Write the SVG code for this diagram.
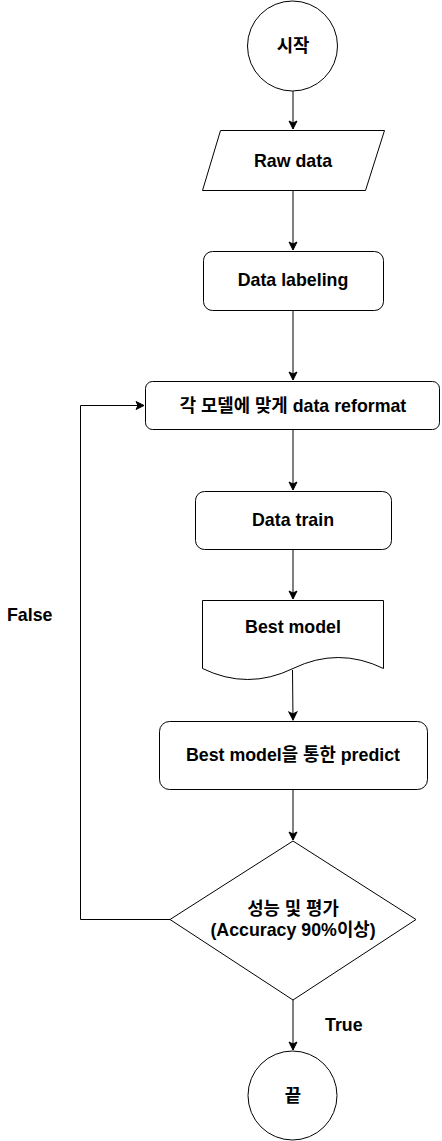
<svg xmlns="http://www.w3.org/2000/svg" width="442" height="1141" viewBox="0 0 442 1141">
<style>
.s{fill:#fff;stroke:#000;stroke-width:1}
.t{font-family:"Liberation Sans","Noto Sans CJK KR",sans-serif;font-weight:bold;font-size:17.8px;fill:#000;text-anchor:middle}
.l{font-family:"Liberation Sans","Noto Sans CJK KR",sans-serif;font-weight:bold;font-size:17.8px;fill:#000}
.c{fill:none;stroke:#000;stroke-width:1}
</style>
<defs>
<marker id="arr" markerUnits="userSpaceOnUse" markerWidth="12" markerHeight="12" refX="10" refY="6" orient="auto">
<path d="M10,6 L2,2 L4,6 L2,10 Z" fill="#000" stroke="#000" stroke-width="1"/>
</marker>
</defs>
<rect width="442" height="1141" fill="#fff"/>
<g id="connectors">
<path class="c" d="M293,91 V129" marker-end="url(#arr)"/>
<path class="c" d="M293,190 V250" marker-end="url(#arr)"/>
<path class="c" d="M293,311 V380" marker-end="url(#arr)"/>
<path class="c" d="M293,430 V490" marker-end="url(#arr)"/>
<path class="c" d="M293,550 V599" marker-end="url(#arr)"/>
<path class="c" d="M292.5,670 L293,720" marker-end="url(#arr)"/>
<path class="c" d="M293,790 V840" marker-end="url(#arr)"/>
<path class="c" d="M170,919.5 H80.5 V405.5 H144" marker-end="url(#arr)"/>
<path class="c" d="M293,1000 V1050" marker-end="url(#arr)"/>
<text class="l" x="7" y="620.5">False</text>
<text class="l" x="325" y="1030.5">True</text>
</g>
<g id="start">
<circle class="s" cx="292.5" cy="46" r="45"/>
<text class="t" x="293" y="52">시작</text>
</g>
<g id="rawdata">
<path class="s" d="M220.5,130.5 H384.5 L365.5,190.5 H202.5 Z"/>
<text class="t" x="293" y="166.5">Raw data</text>
</g>
<g id="labeling">
<rect class="s" x="203.5" y="251.5" width="180" height="59" rx="9"/>
<text class="t" x="293" y="286">Data labeling</text>
</g>
<g id="reformat">
<rect class="s" x="145.5" y="381.5" width="294" height="48" rx="7"/>
<text class="t" x="293" y="411.5">각 모델에 맞게 data reformat</text>
</g>
<g id="train">
<rect class="s" x="195.5" y="491.5" width="196" height="58" rx="9"/>
<text class="t" x="293" y="526">Data train</text>
</g>
<g id="bestmodel">
<path class="s" d="M202.5,600.5 H383.5 V668.5 Q338.25,646.5 293,668.5 Q247.75,690.5 202.5,668.5 Z"/>
<text class="t" x="293" y="633">Best model</text>
</g>
<g id="predict">
<rect class="s" x="159.5" y="721.5" width="268" height="68" rx="10"/>
<text class="t" x="293" y="761">Best model을 통한 predict</text>
</g>
<g id="decision">
<path class="s" d="M293,841 L416,919.5 L293,1000 L170,919.5 Z"/>
<text class="t" x="293" y="915">성능 및 평가</text>
<text class="t" x="293" y="936">(Accuracy 90%이상)</text>
</g>
<g id="end">
<circle class="s" cx="292.5" cy="1095.5" r="44.5"/>
<text class="t" x="293" y="1101.5">끝</text>
</g>
</svg>
